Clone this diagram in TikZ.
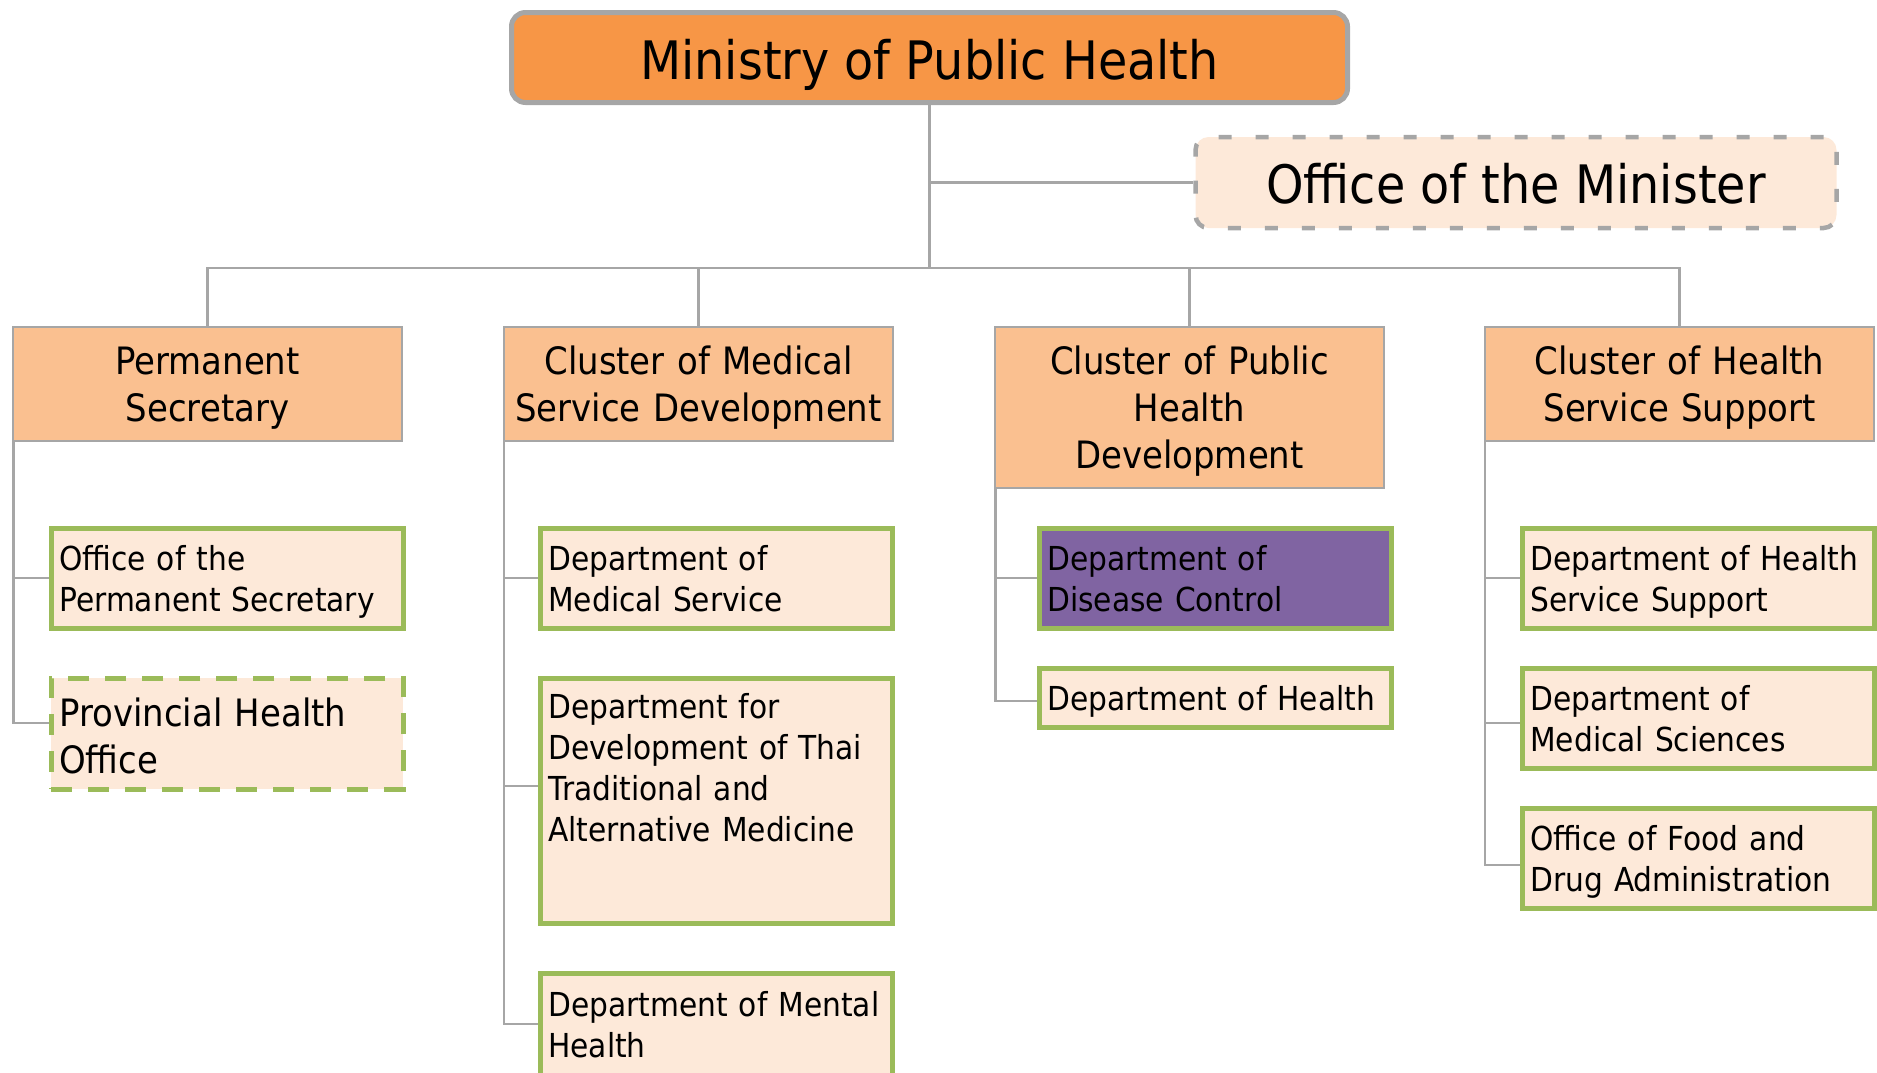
\documentclass[tikz,border=0pt]{standalone}
\usepackage{fontspec}
\setmainfont{DejaVu Sans}[FakeStretch=0.9]
\hyphenpenalty=10000
\exhyphenpenalty=10000
\definecolor{linegray}{HTML}{A6A6A6}
\definecolor{topfill}{HTML}{F79646}
\definecolor{clusterfill}{HTML}{FAC090}
\definecolor{palefill}{HTML}{FDE9D9}
\definecolor{unitgreen}{HTML}{9BBB59}
\definecolor{unitpurple}{HTML}{8064A2}
\tikzset{
  conn/.style={draw=linegray, line width=2.2pt},
  % fixed first-line height and last-line depth keep text positions uniform
  struts/.style 2 args={execute at begin node={\rule{0pt}{#1}},
    execute at end node={\rule[-#2]{0pt}{#2}}},
  topbox/.style={draw=linegray, line width=5pt, fill=topfill, rounded corners=14pt,
    minimum width=836pt, minimum height=90pt, inner sep=0pt,
    text height=43pt, text depth=0pt,
    font=\fontsize{53}{64}\selectfont},
  ministerbox/.style={draw=linegray, line width=4.5pt, dash pattern=on 13pt off 24pt,
    fill=palefill, rounded corners=13pt, minimum width=641pt, minimum height=91pt,
    inner sep=0pt, text height=42pt, text depth=0pt,
    font=\fontsize{53}{64}\selectfont},
  cluster/.style={draw=linegray, line width=2pt, fill=clusterfill, anchor=north west,
    minimum width=389pt, text width=375pt, align=center, inner sep=0pt,
    struts={37.4pt}{9pt}, font=\fontsize{37.7}{47}\selectfont},
  unit/.style={draw=unitgreen, line width=4.5pt, fill=palefill, anchor=north west,
    text width=336pt, inner xsep=8pt, inner ysep=0pt, align=left,
    struts={33pt}{8pt}, font=\fontsize{33}{41}\selectfont},
  unitdash/.style={unit, dash pattern=on 21pt off 16pt, struts={41pt}{9pt},
    font=\fontsize{37.7}{47}\selectfont},
}
\begin{document}
\begin{tikzpicture}[x=1pt,y=-1pt]
\useasboundingbox (0,0) rectangle (1877,1072);

% top level
\node[topbox] (ministry) at (929.5,57.5) {Ministry of Public Health};
\node[ministerbox] (minister) at (1516,182.5) {Office of the Minister};

% clusters
\node[cluster, minimum height=114pt] (c1) at (12,326) {Permanent\\Secretary};
\node[cluster, minimum height=114pt] (c2) at (503,326) {Cluster of Medical\\Service Development};
\node[cluster, minimum height=161pt] (c3) at (994,326) {Cluster of Public\\Health\\Development};
\node[cluster, minimum height=114pt] (c4) at (1484,326) {Cluster of Health\\Service Support};

% units of the Permanent Secretary
\node[unit, minimum height=100pt] (u11) at (49,526) {Office of the\\Permanent Secretary};
\node[unitdash, minimum height=111pt] (u12) at (49,676) {Provincial Health\\Office};

% units of Medical Service Development
\node[unit, minimum height=100pt] (u21) at (538,526) {Department of\\Medical Service};
\node[unit, minimum height=245pt, execute at begin node={}, execute at end node={}] (u22) at (538,676)
  {\parbox[c][245pt][t]{336pt}{\rule{0pt}{40pt}Department for\\Development of Thai\\Traditional and\\Alternative Medicine}};
\node[unit, minimum height=102pt] (u23) at (538,971) {Department of Mental\\Health};

% units of Public Health Development
\node[unit, fill=unitpurple, minimum height=100pt] (u31) at (1037,526) {Department of\\Disease Control};
\node[unit, minimum height=59pt] (u32) at (1037,666) {Department of Health};

% units of Health Service Support
\node[unit, minimum height=100pt] (u41) at (1520,526) {Department of Health\\Service Support};
\node[unit, minimum height=100pt] (u42) at (1520,666) {Department of\\Medical Sciences};
\node[unit, minimum height=100pt] (u43) at (1520,806) {Office of Food and\\Drug Administration};

% main tree
\coordinate (bus) at (0,268);
\draw[conn] (ministry.south) -- (ministry.south |- bus);
\draw[conn] (ministry.south |- minister.west) -- (minister.west);
\draw[conn] (c1.north) -- (c1.north |- bus) -- (c4.north |- bus) -- (c4.north);
\draw[conn] (c2.north) -- (c2.north |- bus);
\draw[conn] (c3.north) -- (c3.north |- bus);

% rails under each cluster
\coordinate (r1) at ([xshift=1.5pt]c1.south west);
\coordinate (r2) at ([xshift=1pt]c2.south west);
\coordinate (r3) at ([xshift=1.5pt]c3.south west);
\coordinate (r4) at ([xshift=1pt]c4.south west);

\draw[conn] (r1) |- (u11.west);
\draw[conn] (r1) |- ([yshift=11pt]u12.west);

\draw[conn] (r2) |- (u21.west);
\draw[conn] (r2) |- ([yshift=15pt]u22.west);
\draw[conn] (r2) |- (u23.west);

\draw[conn] (r3) |- (u31.west);
\draw[conn] (r3) |- ([yshift=-3pt]u32.west);

\draw[conn] (r4) |- (u41.west);
\draw[conn] (r4) |- ([yshift=-5pt]u42.west);
\draw[conn] (r4) |- ([yshift=-7pt]u43.west);
\end{tikzpicture}
\end{document}
